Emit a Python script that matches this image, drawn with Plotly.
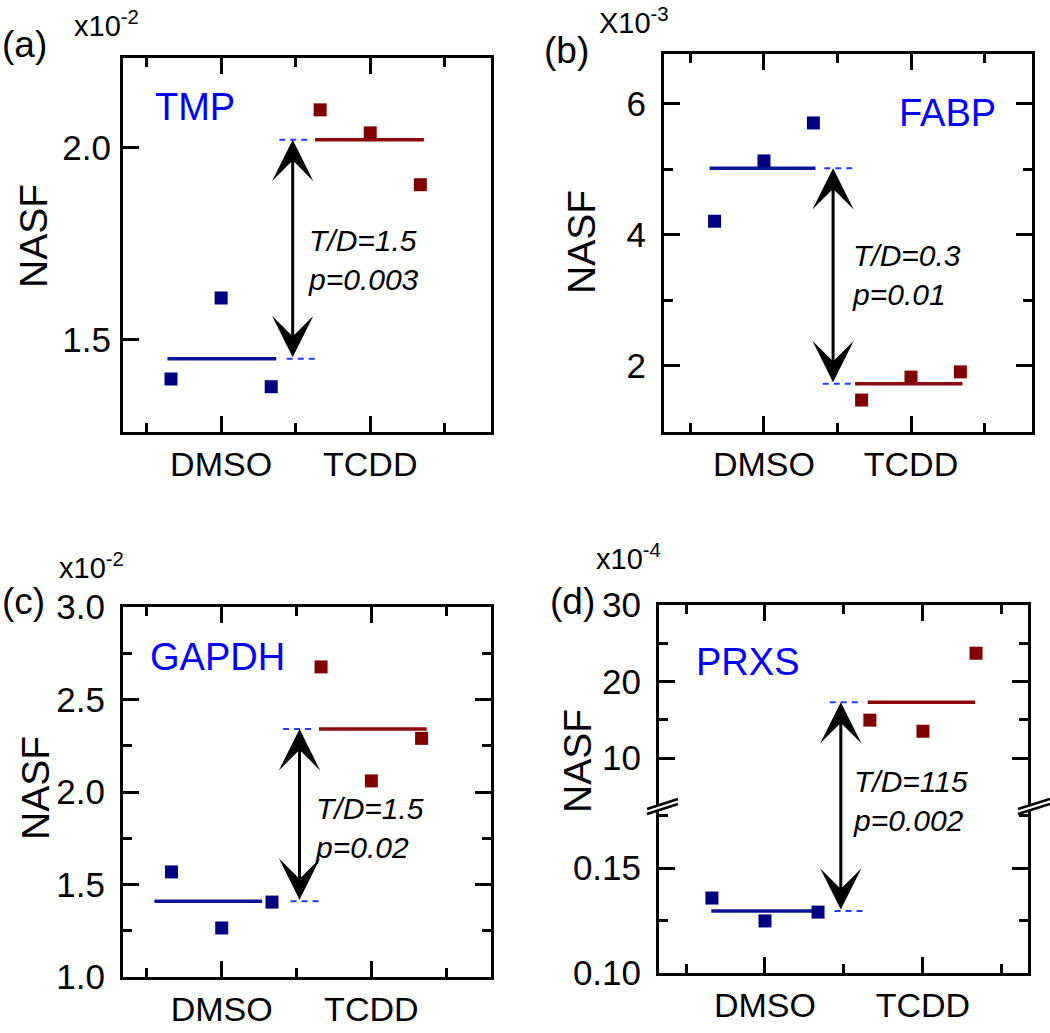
import numpy as np
import plotly.graph_objects as go

W, H = 1050, 1033

# ---------------- data ----------------
categories = ["DMSO", "TCDD"]
cat_pos = [1, 2]

tmp_dmso = [1.398, 1.609, 1.378]
tmp_tcdd = [2.099, 2.039, 1.904]
tmp_means = [1.451, 2.021]

fabp_dmso = [4.21, 5.13, 5.71]
fabp_tcdd = [1.48, 1.83, 1.91]
fabp_means = [5.02, 1.73]

gapdh_dmso = [1.568, 1.265, 1.405]
gapdh_tcdd = [2.676, 2.06, 2.29]
gapdh_means = [1.41, 2.34]

prxs_dmso = [0.1357, 0.1248, 0.129]
prxs_tcdd = [14.95, 13.5, 23.7]
prxs_means = [0.1295, 17.3]

genes = ["TMP", "FABP", "GAPDH", "PRXS"]
ratio_texts = ["T/D=1.5", "T/D=0.3", "T/D=1.5", "T/D=115"]
p_texts = ["p=0.003", "p=0.01", "p=0.02", "p=0.002"]
panel_letters = ["(a)", "(b)", "(c)", "(d)"]
exponents = ["x10<sup>-2</sup>", "X10<sup>-3</sup>", "x10<sup>-2</sup>", "x10<sup>-4</sup>"]

# ---------------- style ----------------
FONT = "Liberation Sans, Arial, sans-serif"
BLUE_M = "#000080"
RED_M = "#800000"
BLUE_L = "#0a1496"
RED_L = "#8b0a0a"
DASH_C = "#1f3cff"
rep_offset = [-0.336, 0.0, 0.336]


def px(x):
    return x / W


def py(y):
    return 1 - y / H


fig = go.Figure()

panels = {
    "a": dict(xd=(123, 491), yd=(58, 432), xr=[0.342, 2.81], yr=[1.26, 2.234]),
    "b": dict(xd=(664, 1032), yd=(54, 432), xr=[0.32, 2.823], yr=[0.992, 6.763]),
    "c": dict(xd=(123, 491), yd=(607, 977), xr=[0.34, 2.80], yr=[1.0, 3.0]),
}
d_geom = dict(xd=(659, 1028), y_up=(605, 800), y_lo=(800, 973),
              xr=[0.329, 2.665], yr_up=[4.51, 30], yr_lo=[0.10, 0.1824])

axis_common = dict(showgrid=False, zeroline=False, showline=True, linecolor="black",
                   linewidth=3, ticks="inside", ticklen=16, tickwidth=3, tickcolor="black",
                   automargin=False,
                   tickfont=dict(family=FONT, size=35, color="black"))

xaxis_common = dict(axis_common, tickvals=cat_pos, ticktext=categories,
                    minor=dict(tickvals=[0.5, 1.5, 2.5], ticks="inside", ticklen=9,
                               tickwidth=3, tickcolor="black"),
                    tickfont=dict(family=FONT, size=34, color="black"))

layout = dict(width=W, height=H, autosize=False, margin=dict(l=0, r=0, t=0, b=0, pad=0),
              plot_bgcolor="white", paper_bgcolor="white", showlegend=False)

g = panels["a"]
layout["xaxis"] = dict(xaxis_common, domain=[px(g["xd"][0]), px(g["xd"][1])], range=g["xr"],
                       anchor="y", mirror="ticks")
layout["yaxis"] = dict(axis_common, domain=[py(g["yd"][1]), py(g["yd"][0])], range=g["yr"],
                       anchor="x", mirror=True, tickvals=[1.5, 2.0], tickformat=".1f",
                       ticklabelstandoff=2)
layout["yaxis9"] = dict(overlaying="y", side="right", anchor="x", range=[0, 3.48],
                        showgrid=False, zeroline=False, showline=False, showticklabels=False,
                        ticks="inside", ticklen=13, tickwidth=3, tickcolor="black",
                        tickvals=[1, 2, 3], automargin=False,
                        minor=dict(tickvals=[0.5, 1.5, 2.5], ticks="inside", ticklen=7,
                                   tickwidth=3, tickcolor="black"))
g = panels["b"]
layout["xaxis2"] = dict(xaxis_common, domain=[px(g["xd"][0]), px(g["xd"][1])], range=g["xr"],
                        anchor="y2", mirror="ticks")
layout["yaxis2"] = dict(axis_common, domain=[py(g["yd"][1]), py(g["yd"][0])], range=g["yr"],
                        anchor="x2", mirror="ticks", tickvals=[2, 4, 6],
                        minor=dict(tickvals=[3, 5], ticks="inside", ticklen=9, tickwidth=3,
                                   tickcolor="black"),
                        ticklabelstandoff=8)
g = panels["c"]
layout["xaxis3"] = dict(xaxis_common, domain=[px(g["xd"][0]), px(g["xd"][1])], range=g["xr"],
                        anchor="y3", mirror="ticks")
layout["yaxis3"] = dict(axis_common, domain=[py(g["yd"][1]), py(g["yd"][0])], range=g["yr"],
                        anchor="x3", mirror="ticks", tickvals=[1.0, 1.5, 2.0, 2.5, 3.0],
                        tickformat=".1f",
                        minor=dict(tickvals=[1.25, 1.75, 2.25, 2.75], ticks="inside",
                                   ticklen=9, tickwidth=3, tickcolor="black"),
                        ticklabelstandoff=8)
g = d_geom
layout["xaxis4"] = dict(xaxis_common, domain=[px(g["xd"][0]), px(g["xd"][1])], range=g["xr"],
                        anchor="y4", mirror=False)
layout["xaxis5"] = dict(xaxis_common, domain=[px(g["xd"][0]), px(g["xd"][1])], range=g["xr"],
                        anchor="y5", side="top", matches="x4", showticklabels=False,
                        mirror=False)
layout["yaxis4"] = dict(axis_common, domain=[py(g["y_lo"][1]), py(g["y_lo"][0])],
                        range=g["yr_lo"], anchor="x4", mirror="ticks",
                        tickvals=[0.10, 0.15], tickformat=".2f",
                        minor=dict(tickvals=[0.125, 0.175], ticks="inside", ticklen=9,
                                   tickwidth=3, tickcolor="black"),
                        ticklabelstandoff=8)
layout["yaxis5"] = dict(axis_common, domain=[py(g["y_up"][1]), py(g["y_up"][0])],
                        range=g["yr_up"], anchor="x5", mirror="ticks",
                        tickvals=[10, 20, 30],
                        minor=dict(tickvals=[15, 25], ticks="inside", ticklen=9,
                                   tickwidth=3, tickcolor="black"),
                        ticklabelstandoff=8)

fig.update_layout(**layout)

annotations = []
shapes = []


def add_group(xa, ya, vals, color, center):
    fig.add_trace(go.Scatter(x=[center + o for o in rep_offset], y=vals, mode="markers",
                             xaxis=xa, yaxis=ya, cliponaxis=False,
                             marker=dict(symbol="square", size=13, color=color,
                                         line=dict(width=0))))


def add_hline(xa, ya, x0, x1, yv, color, width, dash=None):
    fig.add_trace(go.Scatter(x=[x0, x1], y=[yv, yv], mode="lines", xaxis=xa, yaxis=ya,
                             line=dict(color=color, width=width, dash=dash),
                             hoverinfo="skip"))


def val_to_py(v, dom, rng):
    return dom[1] - (v - rng[0]) / (rng[1] - rng[0]) * (dom[1] - dom[0])


ARROW = dict(text="", showarrow=True, arrowhead=3, startarrowhead=3, arrowside="end+start",
             arrowwidth=3, arrowsize=2.3, startarrowsize=2.3, arrowcolor="black",
             standoff=0, startstandoff=0)

specs = [
    ("x", "y", tmp_dmso, tmp_tcdd, tmp_means, [(0.64, 1.37), (1.63, 2.36)],
     [(1.44, 1.66), (1.39, 1.61)], 1.48),
    ("x2", "y2", fabp_dmso, fabp_tcdd, fabp_means, [(0.63, 1.35), (1.62, 2.35)],
     [(1.41, 1.63), (1.40, 1.61)], 1.47),
    ("x3", "y3", gapdh_dmso, gapdh_tcdd, gapdh_means, [(0.55, 1.27), (1.65, 2.37)],
     [(1.46, 1.68), (1.41, 1.63)], 1.52),
]

for xa, ya, dm, tc, mn, mext, dext, ax_x in specs:
    add_hline(xa, ya, mext[0][0], mext[0][1], mn[0], BLUE_L, 3.5)
    add_hline(xa, ya, mext[1][0], mext[1][1], mn[1], RED_L, 3.5)
    add_hline(xa, ya, dext[0][0], dext[0][1], mn[0], DASH_C, 2, "6px,5px")
    add_hline(xa, ya, dext[1][0], dext[1][1], mn[1], DASH_C, 2, "6px,5px")
    add_group(xa, ya, dm, BLUE_M, cat_pos[0])
    add_group(xa, ya, tc, RED_M, cat_pos[1])
    hi, lo = max(mn), min(mn)
    annotations.append(dict(ARROW, x=ax_x, y=hi, ax=ax_x, ay=lo, xref=xa, yref=ya,
                            axref=xa, ayref=ya))

add_hline("x4", "y4", 0.66, 1.36, prxs_means[0], BLUE_L, 3.5)
add_hline("x5", "y5", 1.65, 2.33, prxs_means[1], RED_L, 3.5)
add_hline("x4", "y4", 1.44, 1.64, prxs_means[0], DASH_C, 2, "6px,5px")
add_hline("x5", "y5", 1.41, 1.62, prxs_means[1], DASH_C, 2, "6px,5px")
add_group("x4", "y4", prxs_dmso, BLUE_M, cat_pos[0])
add_group("x5", "y5", prxs_tcdd, RED_M, cat_pos[1])
head_py = val_to_py(prxs_means[1], d_geom["y_up"], d_geom["yr_up"])
tail_py = val_to_py(prxs_means[0], d_geom["y_lo"], d_geom["yr_lo"])
annotations.append(dict(ARROW, x=1.48, y=prxs_means[1], xref="x5", yref="y5", ax=0,
                        ay=tail_py - head_py, axref="pixel", ayref="pixel"))

stat_pos = [("x", "y", 1.57, 1.708), ("x2", "y2", 1.585, 3.39), ("x3", "y3", 1.607, 1.805)]
for i, (xa, ya, xv, yv) in enumerate(stat_pos):
    annotations.append(dict(x=xv, y=yv, xref=xa, yref=ya, xanchor="left", yanchor="middle",
                            align="left", showarrow=False,
                            text="<i>%s<br>%s</i>" % (ratio_texts[i], p_texts[i]),
                            font=dict(family=FONT, size=30, color="black")))
annotations.append(dict(x=px(851), y=py(801), xref="paper", yref="paper", xanchor="left",
                        yanchor="middle", align="left", showarrow=False,
                        text="<i>%s<br>%s</i>" % (ratio_texts[3], p_texts[3]),
                        font=dict(family=FONT, size=30, color="black")))

gene_pos = [("x", "y", 0.544, 2.107), ("x2", "y2", 1.905, 5.86),
            ("x3", "y3", 0.507, 2.73), ("x5", "y5", 0.55, 22.5)]
for i, (xa, ya, xv, yv) in enumerate(gene_pos):
    annotations.append(dict(x=xv, y=yv, xref=xa, yref=ya, xanchor="left", yanchor="middle",
                            showarrow=False, text=genes[i],
                            font=dict(family=FONT, size=38, color="#0000ff")))

letter_pos = [(0, 45), (542, 50), (0, 601), (548, 601)]
exp_pos = [(72, 24), (597, 21), (57, 566), (594, 557)]
ytitle_pos = [(33, 236), (582, 242), (35, 788), (577, 761)]
for i in range(4):
    annotations.append(dict(x=px(letter_pos[i][0]), y=py(letter_pos[i][1]), xref="paper",
                            yref="paper", xanchor="left", yanchor="middle", showarrow=False,
                            text=panel_letters[i],
                            font=dict(family=FONT, size=37, color="black")))
    annotations.append(dict(x=px(exp_pos[i][0]), y=py(exp_pos[i][1]), xref="paper",
                            yref="paper", xanchor="left", yanchor="middle", showarrow=False,
                            text=exponents[i],
                            font=dict(family=FONT, size=29, color="black")))
    annotations.append(dict(x=px(ytitle_pos[i][0]), y=py(ytitle_pos[i][1]), xref="paper",
                            yref="paper", xanchor="center", yanchor="middle", showarrow=False,
                            text="NASF", textangle=-90,
                            font=dict(family=FONT, size=39, color="black")))

for (x0, x1) in [(647, 678), (1018, 1050)]:
    shapes.append(dict(type="path", xref="paper", yref="paper",
                       path="M %f %f L %f %f L %f %f L %f %f Z" % (
                           px(x0), py(809), px(x1), py(799), px(x1), py(804), px(x0), py(814)),
                       fillcolor="white", line=dict(width=0)))
    for dy in (0, 5):
        shapes.append(dict(type="line", xref="paper", yref="paper",
                           x0=px(x0), y0=py(809 + dy), x1=px(x1), y1=py(799 + dy),
                           line=dict(color="black", width=2.5)))

fig.update_layout(annotations=annotations, shapes=shapes)
fig.write_html("out.html", config={"displayModeBar": False},
               post_script="document.body.style.margin='0px';"
                           "document.documentElement.style.margin='0px';")
